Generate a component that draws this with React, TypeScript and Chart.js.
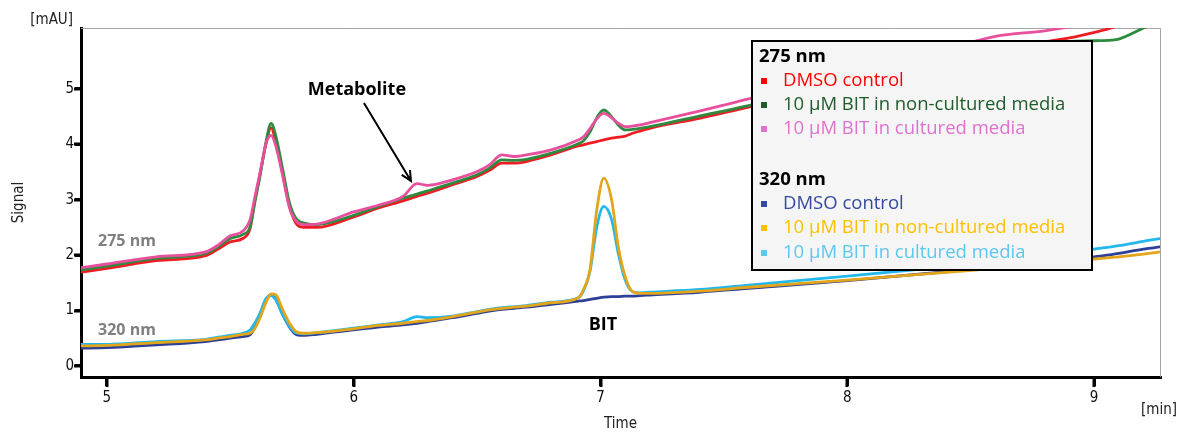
import React, { useEffect, useRef } from 'react';
import { Chart, registerables } from 'chart.js';
Chart.register(...registerables);

// Retention time (min)
const times = [
  4.89, 5.0, 5.2, 5.4, 5.45, 5.5, 5.55, 5.58, 5.6, 5.62, 5.645, 5.665, 5.685, 5.71, 5.74, 5.77, 5.8, 5.85,
  6.0, 6.1, 6.2, 6.256, 6.3, 6.4, 6.5, 6.55, 6.6, 6.65, 6.7, 6.8, 6.91, 6.93, 6.957, 6.985, 7.013, 7.045,
  7.072, 7.1, 7.13, 7.16, 7.2, 7.4, 7.6, 8.0, 8.4, 8.6, 8.8, 8.9, 9.0, 9.07, 9.1, 9.2, 9.27,
];

// 275 nm
const dmso275 = [
  1.69, 1.76, 1.9, 1.99, 2.11, 2.24, 2.3, 2.48, 3.0, 3.45, 4.02, 4.3, 4.02, 3.51, 2.88, 2.55, 2.5, 2.5,
  2.69, 2.85, 2.98, 3.06, 3.12, 3.27, 3.42, 3.53, 3.66, 3.66, 3.69, 3.81, 3.97, 3.99, 4.02, 4.05, 4.08, 4.11,
  4.13, 4.15, 4.2, 4.24, 4.29, 4.47, 4.67, 5.1, 5.5, 5.68, 5.85, 5.92, 6.02, 6.1, 6.15, 6.3, 6.4,
];
const nonCultured275 = [
  1.73, 1.8, 1.94, 2.03, 2.15, 2.3, 2.37, 2.51, 2.97, 3.42, 4.05, 4.38, 4.14, 3.6, 2.94, 2.64, 2.58, 2.55,
  2.72, 2.88, 3.03, 3.1, 3.16, 3.3, 3.45, 3.57, 3.72, 3.71, 3.73, 3.84, 4.01, 4.06, 4.22, 4.48, 4.62, 4.5,
  4.35, 4.26, 4.27, 4.29, 4.32, 4.51, 4.7, 5.12, 5.5, 5.68, 5.83, 5.86, 5.87, 5.88, 5.9, 6.1, 6.25,
];
const cultured275 = [
  1.77, 1.84, 1.97, 2.06, 2.18, 2.35, 2.43, 2.64, 3.06, 3.48, 4.02, 4.16, 3.96, 3.48, 2.85, 2.6, 2.55, 2.56,
  2.78, 2.9, 3.06, 3.29, 3.26, 3.36, 3.51, 3.63, 3.81, 3.78, 3.81, 3.9, 4.08, 4.13, 4.28, 4.46, 4.56, 4.48,
  4.38, 4.32, 4.33, 4.35, 4.39, 4.6, 4.82, 5.3, 5.72, 5.95, 6.05, 6.12, 6.2, 6.25, 6.27, 6.35, 6.4,
];

// 320 nm
const dmso320 = [
  0.32, 0.33, 0.38, 0.44, 0.47, 0.5, 0.53, 0.56, 0.7, 0.92, 1.2, 1.28, 1.2, 0.95, 0.7, 0.56, 0.55, 0.57,
  0.65, 0.7, 0.74, 0.77, 0.8, 0.87, 0.95, 0.99, 1.02, 1.04, 1.06, 1.11, 1.17, 1.18, 1.2, 1.22, 1.24, 1.25,
  1.25, 1.26, 1.26, 1.27, 1.28, 1.33, 1.4, 1.54, 1.7, 1.79, 1.89, 1.94, 1.97, 2.01, 2.03, 2.11, 2.15,
];
const nonCultured320 = [
  0.36, 0.37, 0.42, 0.47, 0.5, 0.53, 0.57, 0.59, 0.68, 0.86, 1.15, 1.3, 1.28, 1.04, 0.77, 0.61, 0.59, 0.6,
  0.67, 0.73, 0.77, 0.8, 0.82, 0.89, 0.97, 1.01, 1.04, 1.06, 1.08, 1.14, 1.23, 1.37, 1.73, 2.82, 3.39, 3.0,
  2.15, 1.61, 1.34, 1.31, 1.31, 1.35, 1.42, 1.55, 1.69, 1.76, 1.84, 1.89, 1.93, 1.96, 1.97, 2.02, 2.06,
];
const cultured320 = [
  0.39, 0.39, 0.44, 0.48, 0.52, 0.55, 0.59, 0.65, 0.78, 0.95, 1.22, 1.27, 1.19, 0.95, 0.71, 0.59, 0.58, 0.6,
  0.68, 0.74, 0.8, 0.89, 0.87, 0.9, 0.98, 1.02, 1.05, 1.07, 1.09, 1.15, 1.23, 1.35, 1.7, 2.51, 2.88, 2.64,
  2.03, 1.55, 1.34, 1.32, 1.33, 1.38, 1.46, 1.62, 1.79, 1.88, 1.99, 2.05, 2.11, 2.15, 2.17, 2.25, 2.3,
];

const xTicks = [5, 6, 7, 8, 9];
const yTicks = [0, 1, 2, 3, 4, 5];
const seriesLabels = ['DMSO control', '10 µM BIT in non-cultured media', '10 µM BIT in cultured media'];
const groupTitles = ['275 nm', '320 nm'];

const lineColors275 = ['#ee1d23', '#2e8a3e', '#e8509e'];
const lineColors320 = ['#2e3f96', '#e3a51a', '#22b8ec'];
const legendColors275 = ['#ff0000', '#1e5c2a', '#de72cf'];
const legendColors320 = ['#35499f', '#ffc000', '#5cc8f0'];

const TICK_FONT = "'DejaVu Sans Condensed', 'DejaVu Sans', sans-serif";
const LABEL_FONT = "'Open Sans', 'Noto Sans', sans-serif";

const pts = (arr: number[]) => times.map((t, i) => ({ x: t, y: arr[i] }));

const mk = (label: string, arr: number[], color: string) => ({
  label,
  data: pts(arr),
  borderColor: color,
  backgroundColor: color,
  borderWidth: 2.8,
  pointRadius: 0,
  cubicInterpolationMode: 'monotone' as const,
  clip: 0,
  fill: false,
});

const overlay = {
  id: 'overlay',
  beforeDatasetsDraw(chart: any) {
    const { ctx, chartArea: a, scales } = chart;
    ctx.save();
    ctx.strokeStyle = '#a6a6a6';
    ctx.lineWidth = 1;
    ctx.beginPath();
    ctx.moveTo(a.left, a.top + 0.5);
    ctx.lineTo(a.right + 0.5, a.top + 0.5);
    ctx.lineTo(a.right + 0.5, a.bottom);
    ctx.stroke();
    // tick nubs on the axes
    ctx.strokeStyle = '#000';
    ctx.lineWidth = 3;
    ctx.beginPath();
    for (const v of yTicks) {
      const py = Math.round(scales.y.getPixelForValue(v));
      ctx.moveTo(a.left - 7, py);
      ctx.lineTo(a.left, py);
    }
    for (const v of xTicks) {
      const px = Math.round(scales.x.getPixelForValue(v));
      ctx.moveTo(px, a.bottom);
      ctx.lineTo(px, a.bottom + 10);
    }
    ctx.stroke();
    ctx.restore();
  },
  afterDraw(chart: any) {
    const { ctx, chartArea: a, scales } = chart;
    const x = scales.x;
    const y = scales.y;
    ctx.save();
    // axis captions
    ctx.fillStyle = '#222';
    ctx.font = `15px ${TICK_FONT}`;
    ctx.textBaseline = 'middle';
    ctx.textAlign = 'right';
    ctx.fillText('[mAU]', 73, 20);
    ctx.textAlign = 'center';
    ctx.fillText('Time', (a.left + a.right) / 2, 424);
    ctx.textAlign = 'right';
    ctx.fillText('[min]', 1177, 410);
    ctx.save();
    ctx.translate(19, (a.top + a.bottom) / 2);
    ctx.rotate(-Math.PI / 2);
    ctx.textAlign = 'center';
    ctx.fillText('Signal', 0, 0);
    ctx.restore();

    // wavelength labels
    ctx.fillStyle = '#808080';
    ctx.font = `bold 16px ${LABEL_FONT}`;
    ctx.textAlign = 'left';
    ctx.fillText('275 nm', x.getPixelForValue(4.964), y.getPixelForValue(2.256));
    ctx.fillText('320 nm', x.getPixelForValue(4.964), y.getPixelForValue(0.632));

    // peak annotations
    ctx.fillStyle = '#000';
    ctx.font = `bold 18px ${LABEL_FONT}`;
    ctx.textAlign = 'center';
    ctx.fillText('Metabolite', x.getPixelForValue(6.013), y.getPixelForValue(4.98));
    ctx.fillText('BIT', x.getPixelForValue(7.01), y.getPixelForValue(0.74));

    // arrow
    const x1 = x.getPixelForValue(6.0415), y1 = y.getPixelForValue(4.747);
    const x2 = x.getPixelForValue(6.232), y2 = y.getPixelForValue(3.339);
    ctx.strokeStyle = '#000';
    ctx.lineWidth = 2;
    ctx.beginPath();
    ctx.moveTo(x1, y1);
    ctx.lineTo(x2, y2);
    const ang = Math.atan2(y2 - y1, x2 - x1);
    const hl = 11;
    ctx.moveTo(x2 - hl * Math.cos(ang - 0.45), y2 - hl * Math.sin(ang - 0.45));
    ctx.lineTo(x2, y2);
    ctx.lineTo(x2 - hl * Math.cos(ang + 0.45), y2 - hl * Math.sin(ang + 0.45));
    ctx.stroke();

    // legend box
    const bx = 752, by = 41, bw = 340, bh = 229;
    ctx.fillStyle = '#f5f5f5';
    ctx.fillRect(bx, by, bw, bh);
    ctx.strokeStyle = '#000';
    ctx.lineWidth = 2;
    ctx.strokeRect(bx, by, bw, bh);
    const groups = [
      { title: groupTitles[0], ty: 57, rows: [81, 105, 129], colors: legendColors275 },
      { title: groupTitles[1], ty: 180, rows: [204, 228, 253], colors: legendColors320 },
    ];
    ctx.textAlign = 'left';
    for (const g of groups) {
      ctx.fillStyle = '#000';
      ctx.font = `bold 18.5px ${LABEL_FONT}`;
      ctx.fillText(g.title, 759, g.ty);
      ctx.font = `18.5px ${LABEL_FONT}`;
      g.rows.forEach((ry, i) => {
        ctx.fillStyle = g.colors[i];
        ctx.fillRect(761, ry - 3, 6, 6);
        ctx.fillText(seriesLabels[i], 783, ry);
      });
    }
    ctx.restore();
  },
};

export default function App() {
  const ref = useRef<HTMLCanvasElement>(null);
  useEffect(() => {
    document.body.style.margin = '0';
    const chart = new Chart(ref.current!, {
      type: 'line',
      data: {
        datasets: [
          mk(seriesLabels[1] + ' 320', nonCultured320, lineColors320[1]),
          mk(seriesLabels[2] + ' 320', cultured320, lineColors320[2]),
          mk(seriesLabels[0] + ' 320', dmso320, lineColors320[0]),
          mk(seriesLabels[2] + ' 275', cultured275, lineColors275[2]),
          mk(seriesLabels[1] + ' 275', nonCultured275, lineColors275[1]),
          mk(seriesLabels[0] + ' 275', dmso275, lineColors275[0]),
        ],
      },
      options: {
        responsive: false,
        animation: false,
        devicePixelRatio: 1,
        layout: { padding: { top: 28, right: 19, left: 0, bottom: 0 } },
        plugins: { legend: { display: false }, tooltip: { enabled: false } },
        scales: {
          x: {
            type: 'linear',
            min: 4.895,
            max: 9.267,
            afterFit: (s: any) => { s.height = 56; },
            afterBuildTicks: (s: any) => { s.ticks = xTicks.map((v) => ({ value: v })); },
            grid: { display: true, color: '#000', drawOnChartArea: false, drawTicks: true, tickLength: 9, tickWidth: 3, tickColor: '#000', lineWidth: 3 },
            border: { display: true, color: '#000', width: 3 },
            ticks: { color: '#111', padding: 3, maxRotation: 0, font: { family: TICK_FONT, size: 15 } },
          },
          y: {
            type: 'linear',
            min: -0.2,
            max: 6.1,
            afterFit: (s: any) => { s.width = 81; },
            afterBuildTicks: (s: any) => { s.ticks = yTicks.map((v) => ({ value: v })); },
            grid: { display: true, color: '#000', drawOnChartArea: false, drawTicks: true, tickLength: 6, tickWidth: 3, tickColor: '#000', lineWidth: 3 },
            border: { display: true, color: '#000', width: 3 },
            ticks: { color: '#111', padding: 1, font: { family: TICK_FONT, size: 15 } },
          },
        },
      },
      plugins: [overlay],
    });
    return () => chart.destroy();
  }, []);
  return (
    <div style={{ width: 1179, height: 433 }}>
      <canvas ref={ref} width={1179} height={433} style={{ display: 'block' }} />
    </div>
  );
}
